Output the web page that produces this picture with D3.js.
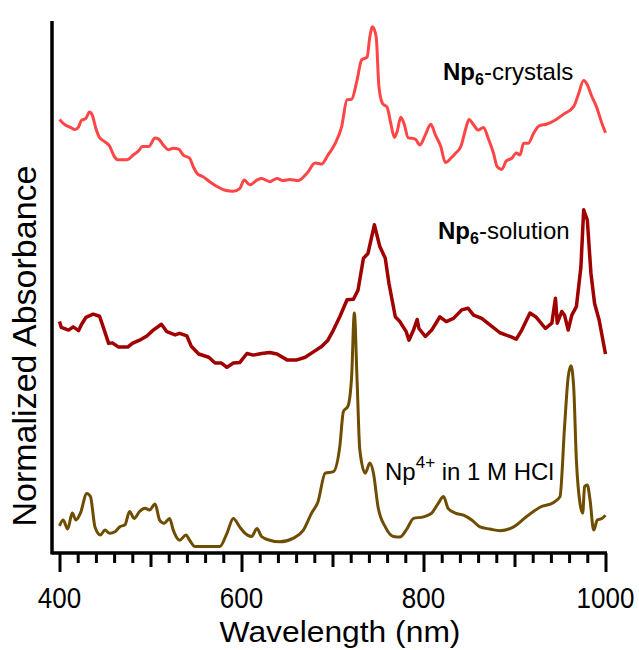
<!DOCTYPE html>
<html>
<head>
<meta charset="utf-8">
<script src="https://cdn.jsdelivr.net/npm/d3@7"></script>
<style>
  body { margin: 0; background: #fff; }
  text { font-family: "Liberation Sans", Arial, sans-serif; }
</style>
</head>
<body>
<div id="chart"></div>
<script>
// wavelength (nm), normalized absorbance (offset per trace as plotted)
var crystalsWl = [400,406,412,417,421,424,429,433,436,440,444,450,455,460,464,474,481,487,491,498,505,509,514,520,525,531,536,543,547,551,558,565,573,582,591,598,603,609,617,622,631,639,646,653,662,672,681,688,695,703,710,716,721,727,732,738,741,744,748,751,755,760,764,768,771,775,779,783,791,796,802,808,813,819,824,830,835,841,846,850,855,860,866,871,877,881,886,891,897,902,906,910,915,921,927,935,945,954,965,970,976,980,985,990,996,1000];
var crystalsAbs = [0.815,0.805,0.800,0.796,0.801,0.813,0.817,0.829,0.823,0.798,0.781,0.773,0.765,0.746,0.739,0.739,0.748,0.756,0.764,0.764,0.780,0.778,0.767,0.758,0.761,0.759,0.748,0.742,0.726,0.714,0.707,0.698,0.689,0.682,0.680,0.685,0.701,0.692,0.701,0.704,0.698,0.704,0.700,0.702,0.700,0.714,0.733,0.731,0.748,0.770,0.801,0.852,0.853,0.889,0.927,0.932,0.970,0.989,0.970,0.877,0.845,0.838,0.808,0.781,0.792,0.819,0.805,0.781,0.778,0.767,0.786,0.806,0.786,0.764,0.734,0.742,0.751,0.764,0.795,0.815,0.805,0.795,0.800,0.780,0.751,0.726,0.721,0.737,0.742,0.752,0.748,0.770,0.770,0.789,0.803,0.806,0.814,0.825,0.839,0.861,0.888,0.880,0.858,0.839,0.808,0.790];

var solutionWl = [400,402,410,415,421,424,429,437,444,448,454,458,465,475,480,488,496,503,512,518,527,532,540,545,553,564,571,578,584,591,598,606,613,622,631,639,650,661,670,679,688,695,701,708,716,723,728,734,739,746,752,758,762,769,774,781,784,789,793,795,802,809,818,825,833,842,849,855,864,873,884,895,902,908,917,924,934,941,945,947,952,955,959,963,968,973,976,980,984,988,993,1000];
var solutionAbs = [0.435,0.424,0.419,0.425,0.418,0.429,0.443,0.449,0.445,0.425,0.394,0.395,0.387,0.387,0.394,0.400,0.408,0.419,0.430,0.416,0.410,0.413,0.408,0.388,0.374,0.368,0.357,0.357,0.349,0.357,0.358,0.375,0.372,0.375,0.377,0.374,0.363,0.363,0.368,0.378,0.388,0.400,0.419,0.444,0.476,0.477,0.494,0.554,0.563,0.617,0.576,0.554,0.507,0.444,0.435,0.416,0.400,0.419,0.439,0.422,0.407,0.419,0.444,0.435,0.441,0.457,0.460,0.447,0.441,0.429,0.414,0.407,0.402,0.419,0.451,0.443,0.422,0.432,0.479,0.432,0.454,0.447,0.419,0.447,0.463,0.538,0.645,0.626,0.526,0.469,0.438,0.374];

var hclWl = [400,404,409,414,418,423,430,434,439,445,450,455,461,466,472,477,482,488,494,499,505,510,515,521,525,532,539,543,549,562,576,584,591,598,604,611,617,622,631,642,657,668,677,684,692,701,708,712,717,721,724,727,730,736,741,745,750,758,767,774,782,789,800,809,816,822,827,835,844,853,862,873,884,899,913,928,943,950,955,959,962,965,968,972,975,977,980,983,987,991,996,1000];
var hclAbs = [0.051,0.062,0.045,0.075,0.062,0.075,0.112,0.106,0.049,0.034,0.043,0.037,0.040,0.049,0.053,0.078,0.065,0.078,0.084,0.081,0.092,0.062,0.056,0.065,0.043,0.024,0.034,0.024,0.012,0.012,0.012,0.037,0.065,0.049,0.037,0.031,0.046,0.031,0.024,0.021,0.028,0.043,0.075,0.096,0.150,0.153,0.200,0.266,0.276,0.331,0.451,0.325,0.194,0.150,0.169,0.150,0.087,0.049,0.031,0.030,0.046,0.065,0.068,0.075,0.093,0.106,0.084,0.075,0.071,0.062,0.049,0.045,0.042,0.049,0.068,0.086,0.095,0.106,0.237,0.331,0.352,0.313,0.175,0.093,0.075,0.125,0.128,0.100,0.043,0.062,0.065,0.071];

var majorTicks = [400, 600, 800, 1000];
var midTicks = [500, 700, 900];
var minorTicks = d3.range(420, 1000, 20).filter(function (t) { return t % 100 !== 0; });

function init() {
    var width = 639, height = 650;

    var svg = d3.select("#chart")
        .append("svg")
        .attr("width", width)
        .attr("height", height);

    var x = d3.scaleLinear()
        .domain([400, 1000])
        .range([59.5, 605.5]);

    var y = d3.scaleLinear()
        .domain([0, 1])
        .range([553, 21]);

    // axes
    function tickAxis(vals, size) {
        return d3.axisBottom(x).tickValues(vals).tickSize(size).tickSizeOuter(0).tickFormat("");
    }
    var axG = svg.append("g").attr("transform", "translate(0,553)");
    axG.append("g").call(tickAxis(minorTicks, 10));
    axG.append("g").call(tickAxis(midTicks, 14));
    axG.append("g").call(tickAxis(majorTicks, 19));
    axG.selectAll(".domain").remove();
    axG.selectAll("line").attr("stroke", "#000").attr("stroke-width", 3);
    axG.append("line")
        .attr("x1", 52).attr("x2", 607).attr("y1", 0).attr("y2", 0)
        .attr("stroke", "#000").attr("stroke-width", 3.5);

    svg.append("line")
        .attr("x1", 52).attr("x2", 52).attr("y1", 21).attr("y2", 554.5)
        .attr("stroke", "#000").attr("stroke-width", 3.5);

    // tick digits look a bit tall in the source figure
    svg.selectAll(".ticklabel")
        .data(majorTicks)
        .enter()
        .append("text")
        .attr("class", "ticklabel")
        .attr("transform", function (d) { return "translate(" + x(d) + ",608) scale(1,1.15)"; })
        .attr("text-anchor", "middle")
        .style("font-size", "26px")
        .text(function (d) { return d; });

    svg.append("text")
        .attr("transform", "translate(340,642) scale(1.06,1)")
        .attr("text-anchor", "middle")
        .style("font-size", "30px")
        .text("Wavelength (nm)");

    svg.append("text")
        .attr("transform", "translate(36,346) rotate(-90)")
        .attr("text-anchor", "middle")
        .style("font-size", "34px")
        .text("Normalized Absorbance");

    // spectra
    var series = [
        { wl: crystalsWl, abs: crystalsAbs, color: "#ff4545", w: 3, curve: d3.curveMonotoneX },
        { wl: solutionWl, abs: solutionAbs, color: "#a00000", w: 3.5, curve: d3.curveLinear },
        { wl: hclWl, abs: hclAbs, color: "#6e4c00", w: 3, curve: d3.curveMonotoneX }
    ];

    var line = d3.line()
        .x(function (d) { return x(d[0]); })
        .y(function (d) { return y(d[1]); });

    series.forEach(function (s) {
        svg.append("path")
            .datum(d3.zip(s.wl, s.abs))
            .attr("fill", "none")
            .attr("stroke", s.color)
            .attr("stroke-width", s.w)
            .attr("stroke-linejoin", "round")
            .attr("d", line.curve(s.curve));
    });

    // labels
    var t1 = svg.append("text").attr("x", 443).attr("y", 80).style("font-size", "24px");
    t1.append("tspan").style("font-weight", "bold").text("Np");
    t1.append("tspan").style("font-weight", "bold").style("font-size", "16px").attr("dy", 5).text("6");
    t1.append("tspan").attr("dy", -5).text("-crystals");

    var t2 = svg.append("text").attr("x", 438).attr("y", 239).style("font-size", "24px");
    t2.append("tspan").style("font-weight", "bold").text("Np");
    t2.append("tspan").style("font-weight", "bold").style("font-size", "16px").attr("dy", 5).text("6");
    t2.append("tspan").attr("dy", -5).text("-solution");

    var t3 = svg.append("text").attr("x", 385).attr("y", 480).style("font-size", "24px");
    t3.append("tspan").text("Np");
    t3.append("tspan").style("font-size", "17px").attr("dy", -12).text("4+");
    t3.append("tspan").attr("dy", 12).text(" in 1 M HCl");
}

window.onload = init;
</script>
</body>
</html>
